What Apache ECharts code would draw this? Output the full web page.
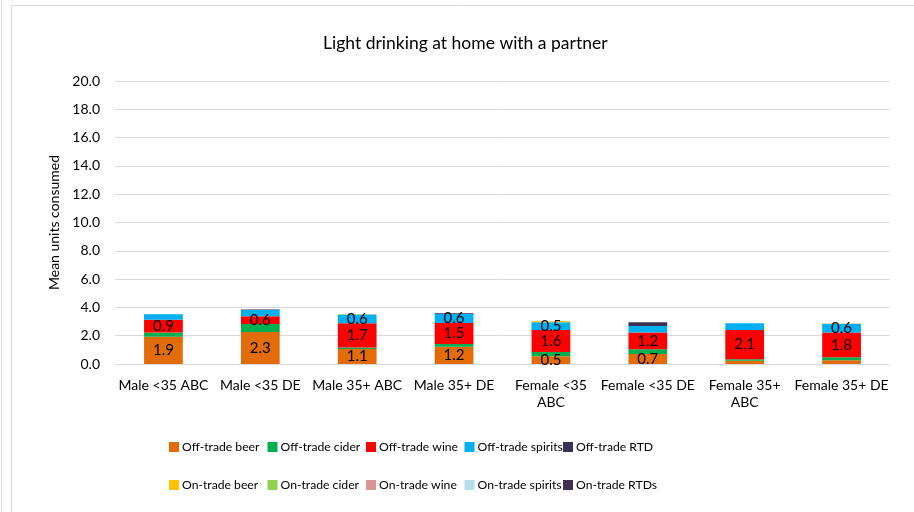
<!DOCTYPE html>
<html>
<head>
<meta charset="utf-8">
<script src="https://cdn.jsdelivr.net/npm/echarts@6/dist/echarts.min.js"></script>
<style>
  html, body { margin: 0; padding: 0; background: #fff; }
  #chart { width: 914px; height: 512px; }
</style>
</head>
<body>
<div id="chart"></div>
<script>
var categories = ['Male <35 ABC', 'Male <35 DE', 'Male 35+ ABC', 'Male 35+ DE',
  'Female <35 ABC', 'Female <35 DE', 'Female 35+ ABC', 'Female 35+ DE']

var seriesNames = ['Off-trade beer', 'Off-trade cider', 'Off-trade wine', 'Off-trade spirits', 'Off-trade RTD',
  'On-trade beer', 'On-trade cider', 'On-trade wine', 'On-trade spirits', 'On-trade RTDs']

var offBeer = [1.92, 2.27, 1.06, 1.22, 0.54, 0.70, 0.23, 0.26]
var offCider = [0.31, 0.56, 0.10, 0.19, 0.30, 0.35, 0.10, 0.21]
var offWine = [0.89, 0.55, 1.72, 1.48, 1.57, 1.18, 2.08, 1.76]
var offSpirits = [0.40, 0.44, 0.62, 0.64, 0.54, 0.46, 0.47, 0.61]
var offRtd = [0, 0.04, 0, 0.05, 0, 0.26, 0, 0]
var onBeer = [0, 0, 0.02, 0, 0.07, 0, 0, 0.02]
var onCider = [0, 0, 0, 0, 0, 0, 0, 0]
var onWine = [0, 0, 0, 0, 0, 0, 0, 0]
var onSpirits = [0, 0, 0, 0, 0, 0, 0, 0]
var onRtds = [0, 0, 0, 0, 0, 0, 0, 0]

var yTicks = [0, 2, 4, 6, 8, 10, 12, 14, 16, 18, 20]

var colors = ['#e36c0a', '#00b050', '#ff0000', '#00b0f0', '#3b3154',
  '#ffc000', '#92d050', '#d99694', '#b7dde8', '#403152']
var seriesData = [offBeer, offCider, offWine, offSpirits, offRtd, onBeer, onCider, onWine, onSpirits, onRtds]
// which series get value labels
var labelled = [true, false, true, true, false, false, false, false, false, false]

var font = 'Lato, "Open Sans", sans-serif'

var series = seriesNames.map(function (name, i) {
  return {
    name: name,
    type: 'bar',
    stack: 'total',
    barWidth: '40%',
    data: seriesData[i],
    itemStyle: { color: colors[i] },
    label: {
      show: labelled[i],
      position: 'inside',
      color: '#000',
      fontFamily: font,
      fontSize: 15,
      formatter: function (p) {
        return p.value >= 0.5 ? p.value.toFixed(1) : ''
      }
    }
  }
})

// legend: two rows of five fixed columns
var legends = seriesNames.map(function (name, i) {
  return {
    data: [name],
    left: 164 + (i % 5) * 98.5,
    top: i < 5 ? 436 : 474,
    itemWidth: 10,
    itemHeight: 10,
    itemGap: 0,
    icon: 'rect',
    selectedMode: false,
    textStyle: { fontFamily: font, fontSize: 12.2, color: '#000', padding: [0, 0, 0, -2] }
  }
})

var chart = echarts.init(document.getElementById('chart'), null, { renderer: 'canvas' })
chart.setOption({
  animation: false,
  title: {
    text: 'Light drinking at home with a partner',
    left: 318,
    top: 29,
    textStyle: { fontFamily: font, fontSize: 17.5, fontWeight: 'normal', color: '#000' }
  },
  legend: legends,
  grid: { left: 115, right: 24, top: 81, bottom: 148 },
  graphic: [
    { type: 'rect', shape: { x: 11.5, y: 5.5, width: 920, height: 520 }, style: { fill: 'none', stroke: '#d9d9d9', lineWidth: 1 } },
    { type: 'line', shape: { x1: 1.5, y1: 0, x2: 1.5, y2: 512 }, style: { stroke: '#d9d9d9', lineWidth: 1 } }
  ],
  xAxis: {
    type: 'category',
    data: categories,
    axisLine: { show: true, lineStyle: { color: '#d9d9d9', width: 1 } },
    axisTick: { show: false },
    axisLabel: {
      interval: 0,
      color: '#000',
      fontFamily: font,
      fontSize: 14,
      margin: 13,
      lineHeight: 17,
      formatter: function (v) {
        // long names wrap onto two lines
        if (v.length > 13) {
          var k = v.lastIndexOf(' ')
          return v.slice(0, k) + '\n' + v.slice(k + 1)
        }
        return v
      }
    }
  },
  yAxis: {
    type: 'value',
    min: yTicks[0],
    max: yTicks[yTicks.length - 1],
    interval: yTicks[1] - yTicks[0],
    name: 'Mean units consumed',
    nameLocation: 'middle',
    nameGap: 53,
    nameTextStyle: { fontFamily: font, fontSize: 14, color: '#000' },
    axisLine: { show: false },
    axisTick: { show: false },
    splitLine: { lineStyle: { color: '#d9d9d9', width: 1 } },
    axisLabel: {
      color: '#000',
      fontFamily: font,
      fontSize: 14,
      margin: 15,
      formatter: function (v) { return v.toFixed(1) }
    }
  },
  series: series
})
</script>
</body>
</html>
